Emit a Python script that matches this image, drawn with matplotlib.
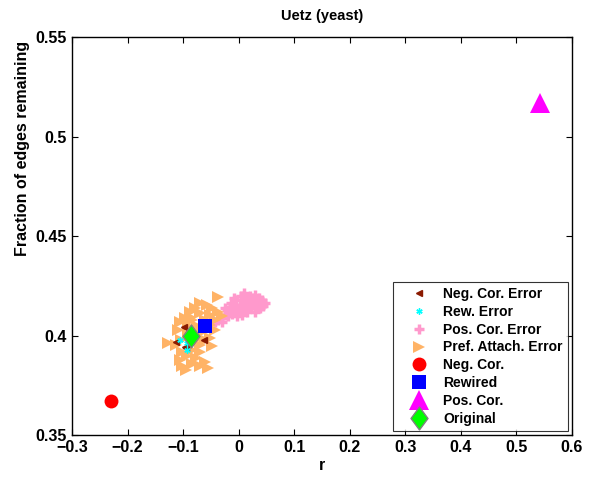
import matplotlib
matplotlib.use("Agg")
import matplotlib.pyplot as plt
from matplotlib.path import Path

plt.rcParams['font.family'] = ['Liberation Sans', 'DejaVu Sans']
plt.rcParams['font.weight'] = 'bold'

title = "Uetz (yeast)"
xlabel = "r"
ylabel = "Fraction of edges remaining"

# Error ensembles
neg_err_r = [-0.098, -0.113, -0.097, -0.062, -0.094]
neg_err_f = [0.4043, 0.397, 0.394, 0.398, 0.3935]

rew_err_r = [-0.106, -0.093, -0.092]
rew_err_f = [0.398, 0.396, 0.3925]

pos_err_r = [-0.043, -0.037, -0.030, -0.025, -0.019, -0.016, -0.012, -0.007, -0.001, 0.002,
             0.006, 0.011, 0.017, 0.020, 0.024, 0.029, 0.035, 0.038, 0.042, 0.047,
             -0.030, -0.020, -0.010, 0.000, 0.008, 0.014, 0.022, 0.030, 0.040, -0.005,
             0.004, 0.012, 0.026, 0.033, -0.014, 0.018, 0.044, -0.024, 0.010, 0.028,
             -0.003, 0.036, 0.016, -0.008, 0.006]
pos_err_f = [0.4068, 0.4078, 0.4088, 0.4103, 0.4098, 0.4118, 0.4110, 0.4128, 0.4138, 0.4153,
             0.4178, 0.4163, 0.4188, 0.4198, 0.4153, 0.4204, 0.4168, 0.4138, 0.4178, 0.4163,
             0.4068, 0.4128, 0.4153, 0.4118, 0.4138, 0.4128, 0.4138, 0.4118, 0.4153, 0.4178,
             0.4198, 0.4178, 0.4188, 0.4148, 0.4163, 0.4158, 0.4150, 0.4138, 0.4214, 0.4173,
             0.4100, 0.4190, 0.4120, 0.4190, 0.4104]

pa_err_r = [-0.037, -0.070, -0.057, -0.048, -0.037, -0.030, -0.079, -0.088, -0.070, -0.052,
            -0.043, -0.097, -0.084, -0.061, -0.075, -0.052, -0.043, -0.091, -0.106, -0.109,
            -0.104, -0.113, -0.127, -0.102, -0.106, -0.091, -0.079, -0.070, -0.061, -0.052,
            -0.048, -0.070, -0.084, -0.093, -0.077, -0.102, -0.095, -0.061, -0.055, -0.070,
            -0.084, -0.066, -0.057, -0.088]
pa_err_f = [0.4193, 0.4163, 0.4153, 0.4138, 0.4118, 0.4098, 0.4138, 0.4118, 0.4113, 0.4103,
            0.4078, 0.4088, 0.4078, 0.4078, 0.4048, 0.4053, 0.4028, 0.4048, 0.4068, 0.4028,
            0.3977, 0.3952, 0.3962, 0.3917, 0.3877, 0.4003, 0.3977, 0.3952, 0.3977, 0.3987,
            0.3947, 0.3917, 0.3927, 0.3897, 0.3887, 0.3847, 0.3827, 0.3867, 0.3837, 0.3847,
            0.3857, 0.4020, 0.4050, 0.4095]

# Main networks
neg_r, neg_f = [-0.230], [0.367]
rew_r, rew_f = [-0.060], [0.405]
pos_r, pos_f = [0.542], [0.517]
orig_r, orig_f = [-0.086], [0.400]

diamond = Path([(0, 1), (0.74, 0), (0, -1), (-0.74, 0), (0, 1)],
               [Path.MOVETO, Path.LINETO, Path.LINETO, Path.LINETO, Path.CLOSEPOLY])

fig = plt.figure(figsize=(5.9, 4.82), dpi=100)
ax = fig.add_axes([0.122, 0.0975, 0.847, 0.8255])

ax.plot(neg_err_r, neg_err_f, ls='none', marker='<', color='#8B1A00', ms=4.5, label='Neg. Cor. Error', zorder=3)
ax.plot(rew_err_r, rew_err_f, ls='none', marker=(6, 2, 0), color='cyan', mew=1, ms=4.5, label='Rew. Error', zorder=3)
ax.plot(pos_err_r, pos_err_f, ls='none', marker='+', color='#FF99CC', ms=7, mew=2.5, label='Pos. Cor. Error', zorder=2)
ax.plot(pa_err_r, pa_err_f, ls='none', marker='>', color='#FFB366', ms=9, mew=0, label='Pref. Attach. Error', zorder=2)
ax.plot(neg_r, neg_f, ls='none', marker='o', color='red', ms=10, mew=0, label='Neg. Cor.', zorder=4)
ax.plot(rew_r, rew_f, ls='none', marker='s', color='blue', ms=9.5, mew=0, label='Rewired', zorder=4)
ax.plot(pos_r, pos_f, ls='none', marker='^', color='magenta', ms=14, mew=0, label='Pos. Cor.', zorder=4)
ax.plot(orig_r, orig_f, ls='none', marker=diamond, mfc='#00FF00', mec='gray', mew=1, ms=16.5, label='Original', zorder=5)

ax.set_xlim(-0.3, 0.6)
ax.set_ylim(0.35, 0.55)
ax.set_xticks([-0.3, -0.2, -0.1, 0, 0.1, 0.2, 0.3, 0.4, 0.5, 0.6])
ax.set_xticklabels(['\u22120.3', '\u22120.2', '\u22120.1', '0', '0.1', '0.2', '0.3', '0.4', '0.5', '0.6'])
ax.set_yticks([0.35, 0.4, 0.45, 0.5, 0.55])
ax.set_yticklabels(['0.35', '0.4', '0.45', '0.5', '0.55'])
ax.tick_params(direction='in', top=True, right=True, labelsize=11.5, length=4, width=0.8)
for lbl in ax.get_xticklabels() + ax.get_yticklabels():
    lbl.set_fontweight('bold')
for s in ax.spines.values():
    s.set_linewidth(1.0)

ax.set_title(title, fontsize=10.5, fontweight='bold', pad=12)
ax.set_xlabel(xlabel, fontsize=11.5, fontweight='bold', labelpad=2)
ax.set_ylabel(ylabel, fontsize=11.5, fontweight='bold')
ax.yaxis.set_label_coords(-0.085, 0.72)

leg = ax.legend(loc='lower right', bbox_to_anchor=(1.0, 0.0), fontsize=10, frameon=True, fancybox=False,
                edgecolor='black', borderpad=0.35, labelspacing=0.28, handletextpad=0.25,
                handlelength=3.0, borderaxespad=0.3, markerscale=1.0)
leg.get_frame().set_linewidth(0.8)
for t in leg.get_texts():
    t.set_fontweight('bold')

fig.savefig('out.png', dpi=100)
